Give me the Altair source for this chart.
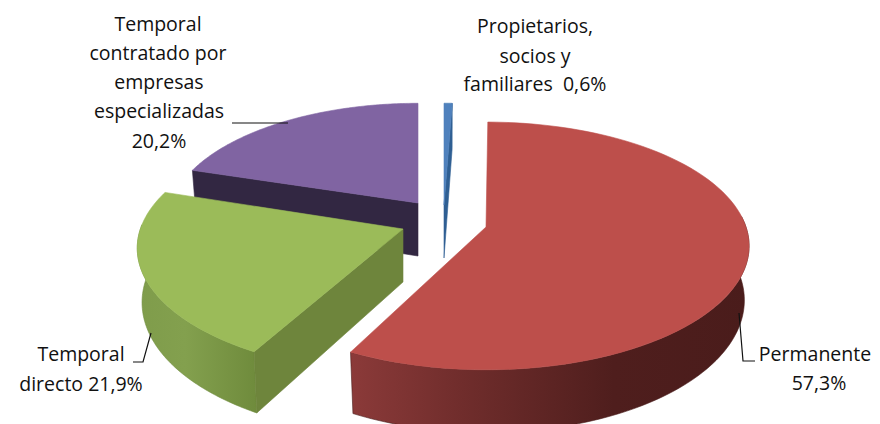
import numpy as np
import pandas as pd
import altair as alt

# ---- data -----
names = ["Propietarios, socios y familiares", "Permanente", "Temporal directo",
         "Temporal contratado por empresas especializadas"]
shares = [0.6, 57.3, 21.9, 20.2]
label_lines = [["Propietarios,", "socios y", "familiares\u00a0\u00a00,6%"],
               ["Permanente", "57,3%"],
               ["Temporal", "directo 21,9%"],
               ["Temporal", "contratado por", "empresas", "especializadas", "20,2%"]]

# ---- 3-D pie geometry -----
W, H = 864, 416
A, B, K, T, XS = 260.0, 121.0, 0.153, 53.0, 0.982
total = sum(shares)
edges = np.concatenate([[0], np.cumsum(shares)]) / total * 360.0
centers = [(444, 205), (486, 227), (403, 229), (418, 203)]
sizes = [0.97, 1.0, 1.01, 0.95]
rots = [0.0, -1.7, 1.0, 0.0]
tops = ["#4f81bd", "#bd4f4b", "#9bbb59", "#8064a2"]
faces = ["#2f5f93", "#6e2b2a", "#6e853c", "#322742"]
face_edge = [1, None, 0, 0]  # which cut edge of each wedge faces the viewer
walls = [None,
         [("#8b3a39", 0), ("#702d2c", 0.28), ("#4f1e1d", 0.66), ("#4a1c1b", 1)],
         [("#7f9c4b", 0), ("#83a04e", 0.4), ("#6f8b3c", 1)],
         None]
wall_from = [None, 85, None, None]
wall_to = [None, None, 272, None]


def project(c, s, phi, bottom=False):
    p = np.radians(phi)
    u, v = np.sin(p), -np.cos(p)
    w = 1 / (1 - K * v)
    x = A * s * u * w
    y = B * s * v * w
    if bottom:
        return c[0] + XS * x, c[1] + y + T * w
    return c[0] + x, c[1] + y


xs = alt.Scale(domain=[8, 8 + W], range=[0, W])
ys = alt.Scale(domain=[8, 8 + H], range=[0, H])


def poly(pts, fill, stroke=None):
    pts = list(pts) + [pts[0]]
    df = pd.DataFrame({"x": [p[0] for p in pts], "y": [p[1] for p in pts], "i": range(len(pts))})
    return alt.Chart(df).mark_line(
        fill=fill, stroke=stroke or fill,
        strokeWidth=0.6, clip=True, interpolate="linear"
    ).encode(
        x=alt.X("x:Q", scale=xs, axis=None),
        y=alt.Y("y:Q", scale=ys, axis=None),
        order=alt.Order("i:Q"),
    )


def wedge_layers(k):
    c, s = centers[k], sizes[k]
    a0, a1 = edges[k] + rots[k], edges[k + 1] + rots[k]
    out = []
    if walls[k]:
        w0 = wall_from[k] if wall_from[k] is not None else a0
        w1 = wall_to[k] if wall_to[k] is not None else a1
        ph = np.linspace(w0, w1, 90)
        pts = [project(c, s, a) for a in ph] + [project(c, s, a, True) for a in ph[::-1]]
        grad = alt.Gradient(gradient="linear", x1=0, x2=1, y1=0, y2=0,
                            stops=[alt.GradientStop(color=col, offset=o) for col, o in walls[k]])
        out.append(poly(pts, grad, stroke=walls[k][-1][0]))
    if face_edge[k] is not None:
        a = edges[k + face_edge[k]] + rots[k]
        c1 = (c[0], c[1] + T)
        out.append(poly([c, project(c, s, a), project(c, s, a, True), c1], faces[k]))
    ph = np.linspace(a0, a1, 90)
    out.append(poly([c] + [project(c, s, a) for a in ph], tops[k]))
    return out


layers = []
for k in [3, 0, 2, 1]:
    layers += wedge_layers(k)

# ---- leader lines -----
leaders = [[(232, 123), (288, 123)],
           [(133, 362), (143, 362), (151, 333)],
           [(739, 313), (743, 361), (755, 361)]]
for seg in leaders:
    df = pd.DataFrame({"x": [p[0] for p in seg], "y": [p[1] for p in seg], "i": range(len(seg))})
    layers.append(alt.Chart(df).mark_line(color="#111111", strokeWidth=1.2).encode(
        x=alt.X("x:Q", scale=xs, axis=None), y=alt.Y("y:Q", scale=ys, axis=None),
        order=alt.Order("i:Q")))

# ---- labels -----
label_pos = [([535, 535, 535], [27, 57, 85]), ([815, 819], [355, 384]),
             ([81, 81], [355, 385]), ([158, 158, 159, 159, 159], [25, 54, 83, 112, 142])]
rows = []
for k, lines in enumerate(label_lines):
    cxs, yy = label_pos[k]
    for t, cx, y in zip(lines, cxs, yy):
        rows.append({"x": cx, "y": y, "t": t})
layers.append(alt.Chart(pd.DataFrame(rows)).mark_text(
    font="Open Sans", fontSize=19.5, color="#111111", align="center", baseline="middle"
).encode(x=alt.X("x:Q", scale=xs, axis=None), y=alt.Y("y:Q", scale=ys, axis=None), text="t:N"))

chart = alt.layer(*layers).properties(
    width=W, height=H, padding=0, autosize=alt.AutoSizeParams(type="none")
).configure_view(stroke=None)

chart.save("out.html", embed_options={"renderer": "svg", "actions": False})
